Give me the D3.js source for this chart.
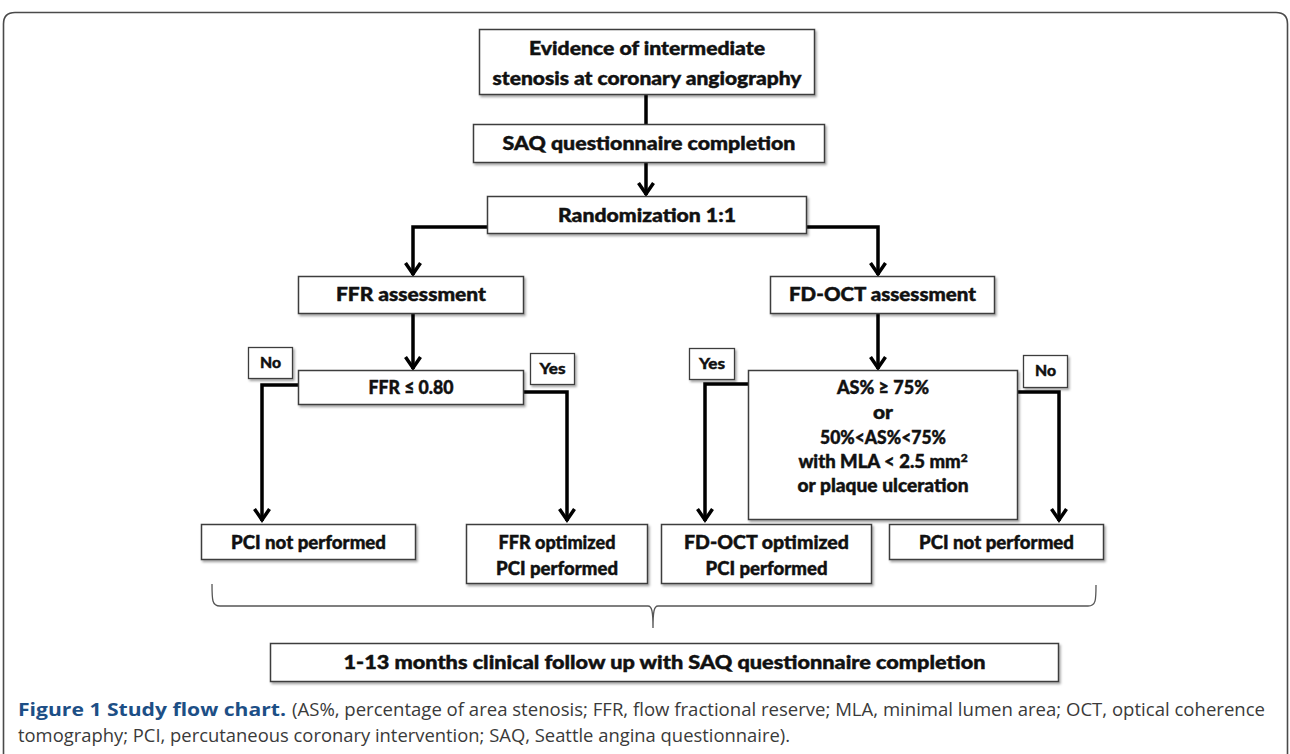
<!DOCTYPE html>
<html>
<head>
<meta charset="utf-8">
<script src="https://cdn.jsdelivr.net/npm/d3@7"></script>
<style>
html,body{margin:0;padding:0;background:#fff;}
svg{display:block;}
</style>
</head>
<body>
<svg id="chart" width="1290" height="754"></svg>
<script>
// ---------- content ----------
const nodeIds = ["evidence","saq","random","ffr","oct","ffrTest","octTest","pciL","ffrPci","octPci","pciR","follow"];
const nodeLines = [
  ["Evidence of intermediate","stenosis at coronary angiography"],
  ["SAQ questionnaire completion"],
  ["Randomization 1:1"],
  ["FFR assessment"],
  ["FD-OCT assessment"],
  ["FFR \u2264 0.80"],
  ["AS% \u2265 75%","or","50%<AS%<75%","with MLA < 2.5 mm\u00B2","or plaque ulceration"],
  ["PCI not performed"],
  ["FFR optimized","PCI performed"],
  ["FD-OCT optimized","PCI performed"],
  ["PCI not performed"],
  ["1-13 months clinical follow up with SAQ questionnaire completion"]
];
const decisionLabels = ["No","Yes","Yes","No"];
const captionBold = "Figure 1 Study flow chart.";
const captionLine1 = "(AS%, percentage of area stenosis; FFR, flow fractional reserve; MLA, minimal lumen area; OCT, optical coherence";
const captionLine2 = "tomography; PCI, percutaneous coronary intervention; SAQ, Seattle angina questionnaire).";

// ---------- layout (pixel geometry) ----------
const boxGeom = {
  evidence:{x:479,y:29,w:335,h:65, lineY:[48,78], tl:[236,309]},
  saq:{x:473,y:124,w:351,h:38, lineY:[143], tl:[293]},
  random:{x:487,y:196,w:319,h:37, lineY:[215], tl:[178]},
  ffr:{x:298,y:276,w:225,h:37, lineY:[294], tl:[150]},
  oct:{x:770,y:276,w:224,h:37, lineY:[294], tl:[187]},
  ffrTest:{x:298,y:370,w:225,h:34, lineY:[387], tl:[85]},
  octTest:{x:748,y:370,w:269,h:149, lineY:[387,412,437,462,485], tl:[92,20,126,170,171]},
  pciL:{x:201,y:524,w:214,h:35, lineY:[542], tl:[155]},
  ffrPci:{x:466,y:524,w:181,h:59, lineY:[542,568], tl:[117,122]},
  octPci:{x:661,y:524,w:210,h:59, lineY:[542,568], tl:[165,122]},
  pciR:{x:889,y:524,w:214,h:35, lineY:[542], tl:[155]},
  follow:{x:270,y:643,w:788,h:38, lineY:[662], tl:[642]}
};
const labelGeom = [
  {x:248,y:347,w:44,h:31,tl:21},
  {x:530,y:353,w:44,h:31,tl:26},
  {x:689,y:348,w:45,h:31,tl:26},
  {x:1023,y:355,w:44,h:32,tl:21}
];

const svg = d3.select("#chart");
const defs = svg.append("defs");
const f = defs.append("filter").attr("id","shadow").attr("x","-5%").attr("y","-10%").attr("width","115%").attr("height","130%");
f.append("feDropShadow").attr("dx",1.5).attr("dy",2).attr("stdDeviation",1.2).attr("flood-color","#000").attr("flood-opacity",0.35);

// outer frame
svg.append("path")
  .attr("d","M3.5,800 L3.5,24 Q3.5,12.5 15,12.5 L1276,12.5 Q1287.5,12.5 1287.5,24 L1287.5,800")
  .attr("fill","none").attr("stroke","#4a4a4a").attr("stroke-width",1.6);

const boxFont = "Lato, 'Open Sans', sans-serif";

// connector lines
const line = d3.line();
const conn = svg.append("g").attr("fill","none").attr("stroke","#000").attr("stroke-width",3.5).attr("stroke-linejoin","miter");
function arrowHead(x, tip){
  conn.append("path").attr("d", line([[x-7.5,tip-12],[x,tip-1],[x+7.5,tip-12]])).attr("stroke-linecap","butt");
}
const paths = [
  {pts:[[646,94],[646,124]], arrow:false},
  {pts:[[646,162],[646,195]], arrow:true},
  {pts:[[487,227],[413,227],[413,275]], arrow:true},
  {pts:[[806,227],[878,227],[878,275]], arrow:true},
  {pts:[[413,313],[413,369]], arrow:true},
  {pts:[[878,313],[878,369]], arrow:true},
  {pts:[[298,385],[262,385],[262,521]], arrow:true},
  {pts:[[523,392],[567,392],[567,521]], arrow:true},
  {pts:[[748,384],[705,384],[705,521]], arrow:true},
  {pts:[[1017,392],[1059,392],[1059,521]], arrow:true}
];
paths.forEach(p=>{
  conn.append("path").attr("d", line(p.pts));
  if(p.arrow){ const last=p.pts[p.pts.length-1]; arrowHead(last[0], last[1]); }
});

// boxes
const nodes = nodeIds.map((id,i)=>({id, lines:nodeLines[i], g:boxGeom[id]}));
const ng = svg.append("g").selectAll("g").data(nodes).join("g");
ng.append("rect")
  .attr("x",d=>d.g.x+0.5).attr("y",d=>d.g.y+0.5).attr("width",d=>d.g.w).attr("height",d=>d.g.h)
  .attr("fill","#fff").attr("stroke","#3c3c3c").attr("stroke-width",1.5).attr("filter","url(#shadow)");
ng.each(function(d){
  const g = d3.select(this);
  d.lines.forEach((t,i)=>{
    const tx = g.append("text")
      .attr("x", d.g.x + d.g.w/2 + 0.5)
      .attr("y", d.g.lineY[i])
      .attr("dy","0.35em")
      .attr("text-anchor","middle")
      .attr("font-family", boxFont)
      .attr("font-weight", 900)
      .attr("font-size", 19)
      .attr("fill","#111")
      .attr("stroke","#111").attr("stroke-width",0.45)
      .attr("textLength", d.g.tl[i])
      .attr("lengthAdjust","spacingAndGlyphs");
    if (t.endsWith("mm\u00B2")) {
      tx.attr("textLength", null);
      tx.text(t.slice(0,-1));
      tx.append("tspan").attr("font-size",12).attr("dy","-0.55em").text("2");
      tx.attr("font-size",18.5);
    } else {
      tx.text(t);
    }
  });
});

// decision labels
const lg = svg.append("g").selectAll("g").data(decisionLabels.map((t,i)=>({t, g:labelGeom[i]}))).join("g");
lg.append("rect")
  .attr("x",d=>d.g.x+0.5).attr("y",d=>d.g.y+0.5).attr("width",d=>d.g.w).attr("height",d=>d.g.h)
  .attr("fill","#fff").attr("stroke","#3c3c3c").attr("stroke-width",1.3).attr("filter","url(#shadow)");
lg.append("text")
  .attr("x",d=>d.g.x+d.g.w/2+0.5).attr("y",d=>d.g.y+d.g.h/2)
  .attr("dy","0.35em").attr("text-anchor","middle")
  .attr("font-family",boxFont).attr("font-weight",900).attr("font-size",15).attr("fill","#111")
  .attr("stroke","#111").attr("stroke-width",0.4)
  .attr("textLength",d=>d.g.tl).attr("lengthAdjust","spacingAndGlyphs")
  .text(d=>d.t);

// curly brace
svg.append("path")
  .attr("d","M212,584 C212,600 212,606 220,606 L648,606 C652,606 653,612 653,628 C653,612 654,606 658,606 L1088,606 C1096,606 1096,600 1096,585")
  .attr("fill","none").attr("stroke","#555").attr("stroke-width",1.3);

// caption
const capFont = "'Liberation Sans Narrow', 'Open Sans', sans-serif";
svg.append("text").attr("x",18).attr("y",710).attr("dy","0.35em")
  .attr("font-family",capFont).attr("font-weight",700).attr("font-size",18).attr("fill","#1d4f86")
  .attr("textLength",268).attr("lengthAdjust","spacingAndGlyphs").text(captionBold);
svg.append("text").attr("x",292).attr("y",710).attr("dy","0.35em")
  .attr("font-family",capFont).attr("font-size",18).attr("fill","#3a3a3a")
  .attr("textLength",973).attr("lengthAdjust","spacingAndGlyphs").text(captionLine1);
svg.append("text").attr("x",18).attr("y",736).attr("dy","0.35em")
  .attr("font-family",capFont).attr("font-size",18).attr("fill","#3a3a3a")
  .attr("textLength",772).attr("lengthAdjust","spacingAndGlyphs").text(captionLine2);
</script>
</body>
</html>
